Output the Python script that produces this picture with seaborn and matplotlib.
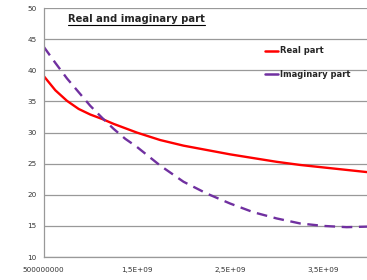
import pandas as pd
import seaborn as sns
from matplotlib import pyplot as plt
from matplotlib.lines import Line2D
from matplotlib.ticker import FixedLocator, FixedFormatter

FREQ = [0.5e9, 0.625e9, 0.75e9, 0.875e9, 1.0e9, 1.125e9, 1.25e9, 1.375e9,
        1.5e9, 1.75e9, 2.0e9, 2.25e9, 2.5e9, 2.75e9, 3.0e9, 3.25e9,
        3.5e9, 3.75e9, 4.0e9]
REAL_PART = [39.1, 36.8, 35.1, 33.8, 32.9, 32.2, 31.4, 30.7,
             30.0, 28.8, 27.9, 27.2, 26.5, 25.9, 25.3, 24.8,
             24.4, 24.0, 23.6]
IMAG_PART = [43.8, 41.2, 38.7, 36.5, 34.3, 32.4, 30.6, 29.0,
             27.7, 24.7, 22.1, 20.2, 18.6, 17.2, 16.2, 15.4,
             15.0, 14.8, 14.9]
SERIES = ['Real part', 'Imaginary part']
X_TICKS = [0.5e9, 1.5e9, 2.5e9, 3.5e9]
X_TICK_LABELS = ['500000000', '1,5E+09', '2,5E+09', '3,5E+09']
Y_TICKS = [10, 15, 20, 25, 30, 35, 40, 45, 50]

RED = '#ff0000'
PURPLE = '#7030a0'
GRID = '#999999'


def main():
    sns.set_style('white')
    plt.rcParams['font.family'] = ['DejaVu Sans']

    df = pd.DataFrame({'freq': FREQ, 'Real part': REAL_PART, 'Imaginary part': IMAG_PART})
    long_df = df.melt(id_vars='freq', var_name='series', value_name='value')

    fig = plt.figure(figsize=(3.67, 2.8), dpi=100)
    ax = fig.add_axes([0.119, 0.082, 0.889, 0.889])

    sns.lineplot(data=long_df, x='freq', y='value', hue='series', style='series',
                 hue_order=SERIES, style_order=SERIES,
                 palette={'Real part': RED, 'Imaginary part': PURPLE},
                 dashes={'Real part': '', 'Imaginary part': (4.5, 2.8)},
                 linewidth=1.7, legend=False, ax=ax)

    ax.set_xlim(0.5e9, 4.0e9)
    ax.set_ylim(10, 50)
    ax.xaxis.set_major_locator(FixedLocator(X_TICKS))
    ax.xaxis.set_major_formatter(FixedFormatter(X_TICK_LABELS))
    ax.set_yticks(Y_TICKS)
    ax.set_xlabel('')
    ax.set_ylabel('')

    ax.yaxis.grid(True, color=GRID, linewidth=0.9)
    ax.set_axisbelow(True)
    for side in ['top', 'right']:
        ax.spines[side].set_visible(False)
    for side in ['left', 'bottom']:
        ax.spines[side].set_color(GRID)
        ax.spines[side].set_linewidth(0.9)
    ax.tick_params(axis='both', which='major', direction='out', length=3, width=0.8,
                   color=GRID, labelsize=5.2, labelcolor='#333333', pad=2)
    ax.tick_params(axis='x', pad=4)

    # title with underline
    title = fig.text(0.185, 0.932, 'Real and imaginary part', fontsize=7.2,
                     fontweight='bold', ha='left', va='center')
    fig.canvas.draw()
    bb = title.get_window_extent()
    fig.add_artist(Line2D([bb.x0 / fig.dpi / 3.67, bb.x1 / fig.dpi / 3.67],
                          [(bb.y0 - 1) / fig.dpi / 2.8] * 2, color='black', linewidth=0.8))

    # legend shows both series as solid lines
    handles = [Line2D([], [], color=RED, linewidth=1.8),
               Line2D([], [], color=PURPLE, linewidth=1.8)]
    fig.legend(handles, SERIES, loc='upper left', bbox_to_anchor=(0.722, 0.834),
               frameon=False, prop={'size': 6, 'weight': 'bold'},
               handlelength=1.6, handletextpad=0.15, labelspacing=1.7,
               borderpad=0, borderaxespad=0)

    fig.savefig('out.png', dpi=100)


if __name__ == '__main__':
    main()
